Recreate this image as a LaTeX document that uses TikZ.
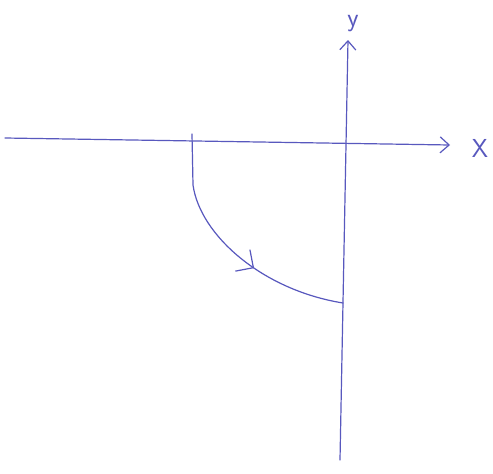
\documentclass[tikz,border=0pt]{standalone}
\usetikzlibrary{arrows.meta,decorations.markings}
\definecolor{pen}{RGB}{88,88,190}
\tikzset{
  pen/.style={draw=pen,line width=1.2pt,line cap=round,line join=round},
  axislabel/.style={text=pen,font=\fontsize{26}{28}\sffamily}
}
\begin{document}
\begin{tikzpicture}[x=1pt,y=-1pt,>={Straight Barb[length=9pt,width=16pt]}]
\useasboundingbox (0,0) rectangle (493,474);
\fill[white!96!blue!3] (0,0) rectangle (493,474);
% axes
\coordinate (xl) at (5,138);
\coordinate (xr) at (450,145);
\coordinate (yb) at (340,460);
\coordinate (yt) at (348,40);
\draw[pen,->] (xl) -- (xr);
\draw[pen,->] (yb) -- (yt);
\node[axislabel] (xlab) at (480,148) {X};
\node[axislabel] (ylab) at (353,24) {y};
% path from the x axis to the y axis
\coordinate (start) at (192,134);
\coordinate (bend) at (193,185);
\coordinate (stop) at (343,303);
\draw[pen,decoration={markings,mark=at position 0.62 with
    {\arrow{Straight Barb[length=13pt,width=26pt]}}},postaction={decorate}]
  (start) -- (bend) .. controls (200,235) and (262,290) .. (stop);
\end{tikzpicture}
\end{document}
